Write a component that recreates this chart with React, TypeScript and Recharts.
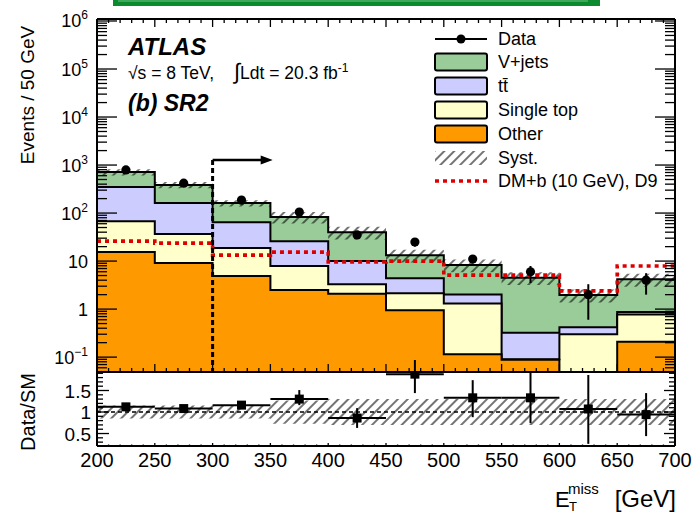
import React from 'react';
import { ComposedChart, Area, Line, Scatter, XAxis, YAxis, ErrorBar, ReferenceLine } from 'recharts';

// ---------- data ----------
const binEdges = [200, 250, 300, 350, 400, 450, 500, 550, 600, 650, 700];
const binCenters = [225, 275, 325, 375, 425, 475, 525, 575, 625, 675];
const otherVals = [15.5, 9.1, 4.9, 2.5, 2.1, 0.95, 0.115, 0.088, 0.01, 0.21];
const singleTopVals = [52, 27.5, 13.8, 5.4, 1.2, 1.2, 1.2, 0.002, 0.29, 0.56];
const ttbarVals = [282, 125, 46, 18, 6.7, 2.25, 0.7, 0.23, 0.12, 0.1];
const vjetsVals = [365, 223, 97, 57, 30, 8.9, 6.3, 4.2, 1.55, 3.3];
const dataVals = [790, 420, 186, 105, 35, 25, 11, 6, 2, 4];
const dataErrLow = [28, 20, 14, 10, 6, 5, 2.1, 2.5, 1.4, 2.0];
const dataErrHigh = [28, 20, 14, 10, 6, 5, 2.0, 1.9, 1.3, 1.6];
const dmVals = [26, 23.7, 13.3, 15.4, 9.6, 10, 5.1, 5.1, 2.4, 7.9];
const systFrac = [0.15, 0.15, 0.15, 0.27, 0.3, 0.3, 0.3, 0.3, 0.3, 0.3];
const ratioVals = [1.12, 1.08, 1.16, 1.3, 0.86, 1.88, 1.33, 1.33, 1.07, 0.94];
const ratioErrLow = [0.04, 0.05, 0.08, 0.14, 0.23, 0.44, 0.45, 0.59, 0.81, 0.5];
const ratioErrHigh = [0.04, 0.05, 0.08, 0.21, 0.23, 0.4, 0.41, 0.6, 0.79, 0.5];
const binHalfWidth = 25;

const cutValue = 300;
const arrowEnd = 352;
const cutTop = 1270;

const yMajorTicks = [0.1, 1, 10, 100, 1e3, 1e4, 1e5, 1e6];
const ratioMajorTicks = [0.5, 1, 1.5];
const xLabelTicks = [200, 250, 300, 350, 400, 450, 500, 550, 600, 650, 700];

const mainDomain: [number, number] = [0.049, 1.1e6];
const ratioDomain: [number, number] = [0.21, 1.93];

// ---------- tick lists ----------
const xMinorTicks: number[] = [];
for (let v = 200; v <= 700; v += 10) xMinorTicks.push(v);

const mainYTicks: number[] = [];
for (let e = -2; e <= 5; e++) {
  for (let k = 1; k <= 9; k++) {
    const v = Number((k * Math.pow(10, e)).toPrecision(6));
    if (v >= mainDomain[0] && v <= mainDomain[1]) mainYTicks.push(v);
  }
}
mainYTicks.push(1e6);

const ratioYTicks: number[] = [];
for (let i = 3; i <= 19; i++) ratioYTicks.push(Number((i / 10).toFixed(1)));

// ---------- rows ----------
const stackRows = binEdges.map((x, i) => {
  const b = Math.min(i, binCenters.length - 1);
  const o = otherVals[b];
  const s = o + singleTopVals[b];
  const t = s + ttbarVals[b];
  const v = t + vjetsVals[b];
  return {
    x,
    other: o,
    single: s,
    ttbar: t,
    total: v,
    syst: [v * (1 - systFrac[b]), v * (1 + systFrac[b])],
    dm: dmVals[b],
    rband: [1 - systFrac[b], 1 + systFrac[b]],
  };
});

const dataRows = binCenters.map((x, i) => ({ x, y: dataVals[i], err: [dataErrLow[i], dataErrHigh[i]] }));
const ratioRows = binCenters.map((x, i) => ({
  x,
  y: ratioVals[i],
  err: [ratioErrLow[i], ratioErrHigh[i]],
  xerr: binHalfWidth,
}));

// ---------- styles ----------
const FONT = '"Liberation Sans", Arial, Helvetica, sans-serif';
const axisLine = { stroke: '#000', strokeWidth: 2 };
const W = 697;
const LEFT = 97;

const isIn = (arr: number[], v: number) => arr.some((m) => Math.abs(m - v) <= Math.abs(m) * 1e-6);

const logLabel = (v: number) => {
  const e = Math.round(Math.log10(v));
  if (e === 0) return '1';
  if (e === 1) return '10';
  return (
    <>
      10
      <tspan dy={-8} fontSize={12}>
        {e < 0 ? '\u2212' + -e : String(e)}
      </tspan>
    </>
  );
};

const LeftLogTick = (props: any) => {
  const { x, y, payload } = props;
  const major = isIn(yMajorTicks, payload.value);
  return (
    <g>
      <line x1={x} x2={x + (major ? 20 : 10)} y1={y} y2={y} stroke="#000" strokeWidth={1.3} />
      {major && (
        <text x={x - 9} y={y + 6.5} textAnchor="end" fontSize={18} fontFamily={FONT} fill="#000">
          {logLabel(payload.value)}
        </text>
      )}
    </g>
  );
};

const RightLogTick = (props: any) => {
  const { x, y, payload } = props;
  const major = isIn(yMajorTicks, payload.value);
  return <line x1={x} x2={x - (major ? 20 : 10)} y1={y} y2={y} stroke="#000" strokeWidth={1.3} />;
};

const LeftRatioTick = (props: any) => {
  const { x, y, payload } = props;
  const major = isIn(ratioMajorTicks, payload.value);
  return (
    <g>
      <line x1={x} x2={x + (major ? 12 : 6)} y1={y} y2={y} stroke="#000" strokeWidth={1.3} />
      {major && (
        <text x={x - 6} y={y + 7} textAnchor="end" fontSize={19} fontFamily={FONT} fill="#000">
          {String(payload.value)}
        </text>
      )}
    </g>
  );
};

const RightRatioTick = (props: any) => {
  const { x, y, payload } = props;
  const major = isIn(ratioMajorTicks, payload.value);
  return <line x1={x} x2={x - (major ? 11 : 6)} y1={y} y2={y} stroke="#000" strokeWidth={1.3} />;
};

const makeXTick = (dir: number, majorLen: number, minorLen: number, labels: boolean) => (props: any) => {
  const { x, y, payload } = props;
  const major = isIn(xLabelTicks, payload.value);
  return (
    <g>
      <line x1={x} x2={x} y1={y} y2={y + dir * (major ? majorLen : minorLen)} stroke="#000" strokeWidth={1.3} />
      {labels && major && (
        <text x={x} y={y + 21} textAnchor="middle" fontSize={20} fontFamily={FONT} fill="#000">
          {String(payload.value)}
        </text>
      )}
    </g>
  );
};

const MainBottomTick = makeXTick(-1, 8, 4, false);
const MainTopTick = makeXTick(1, 8, 4, false);
const RatioBottomTick = makeXTick(-1, 3, 1.5, true);

const DataDot = (p: any) => <circle cx={p.cx} cy={p.cy} r={4.6} fill="#000" />;
const RatioSquare = (p: any) => <rect x={p.cx - 4.5} y={p.cy - 4.5} width={9} height={9} fill="#000" />;

const ArrowShape = (p: any) => (
  <g>
    <line x1={p.x1} y1={p.y1} x2={p.x2 - 8} y2={p.y2} stroke="#000" strokeWidth={2.6} />
    <polygon points={`${p.x2},${p.y2} ${p.x2 - 12},${p.y2 - 4.5} ${p.x2 - 12},${p.y2 + 4.5}`} fill="#000" />
  </g>
);

const legendItems = [
  { label: 'Data', kind: 'data', base: 45 },
  { label: 'V+jets', kind: 'box', color: '#99cc99', base: 68 },
  { label: 'tt\u0304', kind: 'box', color: '#ccccff', base: 92 },
  { label: 'Single top', kind: 'box', color: '#ffffcc', base: 116 },
  { label: 'Other', kind: 'box', color: '#ff9900', base: 140 },
  { label: 'Syst.', kind: 'hatch', base: 164 },
  { label: 'DM+b (10 GeV), D9', kind: 'dm', base: 187 },
];

export default function App() {
  return (
    <div style={{ position: 'fixed', left: 0, top: 0, width: W, height: 513, background: '#fff', fontFamily: FONT }}>
      <svg width={0} height={0} style={{ position: 'absolute' }}>
        <defs>
          <pattern id="hatch" patternUnits="userSpaceOnUse" width={7} height={7} patternTransform="rotate(45)">
            <line x1={1} y1={0} x2={1} y2={7} stroke="#000" strokeWidth={1.1} />
          </pattern>
        </defs>
      </svg>

      <div style={{ position: 'absolute', left: 0, top: 0 }}>
        <ComposedChart width={W} height={380} data={stackRows} margin={{ top: 18, right: 21, bottom: 7, left: 0 }}>
          <Area dataKey="total" type="stepAfter" baseValue="dataMin" fill="#99cc99" fillOpacity={1} stroke="#000" strokeWidth={2} isAnimationActive={false} />
          <Area dataKey="ttbar" type="stepAfter" baseValue="dataMin" fill="#ccccff" fillOpacity={1} stroke="#000" strokeWidth={2} isAnimationActive={false} />
          <Area dataKey="single" type="stepAfter" baseValue="dataMin" fill="#ffffcc" fillOpacity={1} stroke="#000" strokeWidth={2} isAnimationActive={false} />
          <Area dataKey="other" type="stepAfter" baseValue="dataMin" fill="#ff9900" fillOpacity={1} stroke="#000" strokeWidth={2} isAnimationActive={false} />
          <Area dataKey="syst" type="stepAfter" fill="url(#hatch)" fillOpacity={1} stroke="none" isAnimationActive={false} />
          <Line dataKey="dm" type="stepAfter" stroke="#dd0000" strokeWidth={3.6} strokeDasharray="4 4" dot={false} isAnimationActive={false} />
          <ReferenceLine segment={[{ x: cutValue, y: cutTop }, { x: cutValue, y: mainDomain[0] }]} stroke="#000" strokeWidth={3} strokeDasharray="5 3" ifOverflow="visible" />
          <ReferenceLine segment={[{ x: cutValue, y: cutTop }, { x: arrowEnd, y: cutTop }]} shape={ArrowShape} ifOverflow="visible" />
          <Scatter data={dataRows} dataKey="y" shape={DataDot} isAnimationActive={false}>
            <ErrorBar dataKey="err" direction="y" width={0} stroke="#000" strokeWidth={2} />
          </Scatter>
          <XAxis dataKey="x" type="number" domain={[200, 700]} allowDataOverflow ticks={xMinorTicks} interval={0} height={1} tickSize={0} tickMargin={0} axisLine={axisLine} tickLine={false} tick={MainBottomTick} />
          <XAxis xAxisId="top" orientation="top" dataKey="x" type="number" domain={[200, 700]} allowDataOverflow ticks={xMinorTicks} interval={0} height={1} tickSize={0} tickMargin={0} axisLine={axisLine} tickLine={false} tick={MainTopTick} />
          <YAxis scale="log" type="number" domain={mainDomain} allowDataOverflow ticks={mainYTicks} interval={0} width={LEFT} tickSize={0} tickMargin={0} axisLine={axisLine} tickLine={false} tick={LeftLogTick} />
          <YAxis yAxisId="right" orientation="right" scale="log" type="number" domain={mainDomain} allowDataOverflow ticks={mainYTicks} interval={0} width={1} tickSize={0} tickMargin={0} axisLine={axisLine} tickLine={false} tick={RightLogTick} />
        </ComposedChart>
      </div>

      <div style={{ position: 'absolute', left: 0, top: 360 }}>
        <ComposedChart width={W} height={153} data={stackRows} margin={{ top: 12, right: 21, bottom: 66, left: 0 }}>
          <Area dataKey="rband" type="stepAfter" fill="url(#hatch)" fillOpacity={1} stroke="none" isAnimationActive={false} />
          <ReferenceLine y={1} stroke="#000" strokeWidth={1.6} strokeDasharray="4 3" />
          <Scatter data={ratioRows} dataKey="y" shape={RatioSquare} isAnimationActive={false}>
            <ErrorBar dataKey="xerr" direction="x" width={0} stroke="#000" strokeWidth={2} />
            <ErrorBar dataKey="err" direction="y" width={0} stroke="#000" strokeWidth={2} />
          </Scatter>
          <XAxis dataKey="x" type="number" domain={[200, 700]} allowDataOverflow ticks={xMinorTicks} interval={0} height={1} tickSize={0} tickMargin={0} axisLine={axisLine} tickLine={false} tick={RatioBottomTick} />
          <YAxis type="number" domain={ratioDomain} allowDataOverflow ticks={ratioYTicks} interval={0} width={LEFT} tickSize={0} tickMargin={0} axisLine={axisLine} tickLine={false} tick={LeftRatioTick} />
          <YAxis yAxisId="right" orientation="right" type="number" domain={ratioDomain} allowDataOverflow ticks={ratioYTicks} interval={0} width={1} tickSize={0} tickMargin={0} axisLine={axisLine} tickLine={false} tick={RightRatioTick} />
        </ComposedChart>
      </div>

      <svg width={W} height={513} style={{ position: 'absolute', left: 0, top: 0, pointerEvents: 'none' }} fontFamily={FONT}>
        <rect x={113} y={-2} width={487} height={8} fill="#0b8a2e" />
        <rect x={118} y={0} width={470} height={2} fill="#3fa85c" />

        <text x={128} y={55} fontSize={24} fontWeight="bold" fontStyle="italic">ATLAS</text>
        <text x={128} y={79} fontSize={17.5}>{'\u221As = 8 TeV,'}</text>
        <text x={234} y={79} fontSize={17.5}>
          <tspan fontSize={22}>{'\u222B'}</tspan>Ldt = 20.3 fb<tspan dy={-7} fontSize={12}>-1</tspan>
        </text>
        <text x={128} y={111} fontSize={23} fontWeight="bold" fontStyle="italic">(b) SR2</text>

        {legendItems.map((it) => {
          const cy = it.base - 6;
          return (
            <g key={it.label}>
              {it.kind === 'data' && (
                <g>
                  <line x1={435} x2={487} y1={cy} y2={cy} stroke="#000" strokeWidth={2} />
                  <circle cx={461} cy={cy} r={4.5} fill="#000" />
                </g>
              )}
              {it.kind === 'box' && (
                <rect x={435} y={cy - 8.5} width={52} height={17} rx={2} fill={it.color} stroke="#000" strokeWidth={2} />
              )}
              {it.kind === 'hatch' && <rect x={435} y={cy - 7} width={52} height={14} fill="url(#hatch)" />}
              {it.kind === 'dm' && (
                <line x1={435} x2={487} y1={cy} y2={cy} stroke="#dd0000" strokeWidth={3.6} strokeDasharray="4 4" />
              )}
              <text x={498} y={it.base} fontSize={18}>{it.label}</text>
            </g>
          );
        })}

        <text x={34} y={95} fontSize={19} textAnchor="middle" transform="rotate(-90 34 95)">Events / 50 GeV</text>
        <text x={35} y={412} fontSize={20} textAnchor="middle" transform="rotate(-90 35 412)">Data/SM</text>

        <text x={555} y={507} fontSize={22}>E</text>
        <text x={569} y={511} fontSize={13}>T</text>
        <text x={568} y={494} fontSize={15}>miss</text>
        <text x={676} y={507} fontSize={24} textAnchor="end">[GeV]</text>
      </svg>
    </div>
  );
}
